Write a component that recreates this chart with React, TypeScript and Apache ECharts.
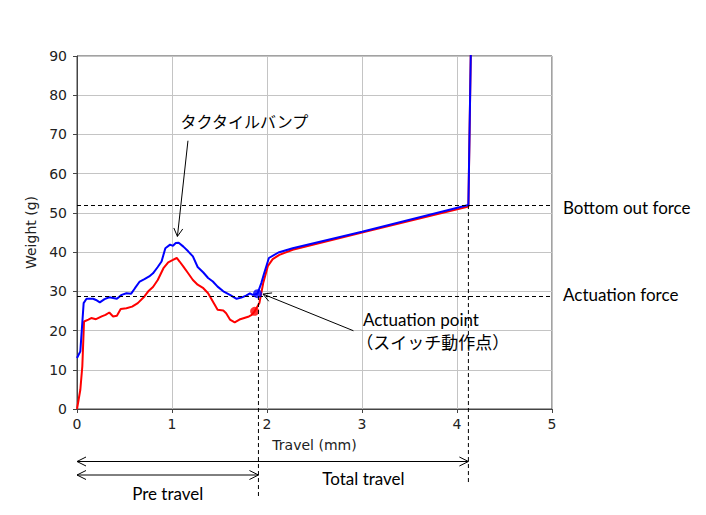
import React, { useEffect, useRef } from "react";
import * as echarts from "echarts";

// Red curve (travel mm, weight g)
const redTravel = [0, 0.035, 0.056, 0.074, 0.12, 0.15, 0.2, 0.26, 0.3, 0.34, 0.38, 0.42, 0.46, 0.52, 0.58, 0.64, 0.71, 0.75, 0.8, 0.85, 0.91, 0.96, 1.01, 1.05, 1.08, 1.12, 1.17, 1.22, 1.27, 1.33, 1.38, 1.43, 1.48, 1.54, 1.57, 1.61, 1.66, 1.71, 1.76, 1.81, 1.84, 1.87, 1.92, 1.96, 2.01, 2.06, 2.13, 2.27, 3.0, 4.12, 4.148];
const redWeight = [0, 4.9, 10.9, 22.3, 22.8, 23.2, 22.9, 23.6, 24.0, 24.6, 23.6, 23.8, 25.5, 25.7, 26.1, 27.0, 28.7, 30.0, 31.1, 32.9, 35.9, 37.4, 38.0, 38.5, 37.6, 36.3, 34.6, 32.9, 31.7, 30.8, 29.5, 27.4, 25.3, 25.1, 24.4, 22.8, 22.1, 22.8, 23.2, 23.6, 24.0, 24.9, 27.0, 32.1, 36.5, 38.2, 39.3, 40.6, 45.0, 51.6, 95];

// Blue curve (travel mm, weight g)
const blueTravel = [0, 0.035, 0.07, 0.1, 0.17, 0.2, 0.24, 0.29, 0.34, 0.38, 0.42, 0.47, 0.52, 0.57, 0.61, 0.66, 0.71, 0.76, 0.8, 0.85, 0.89, 0.93, 0.98, 1.01, 1.04, 1.07, 1.12, 1.17, 1.22, 1.27, 1.33, 1.38, 1.43, 1.48, 1.54, 1.61, 1.68, 1.73, 1.78, 1.82, 1.85, 1.9, 1.94, 1.97, 2.02, 2.12, 2.27, 3.0, 4.12, 4.148];
const blueWeight = [13.0, 14.7, 27.0, 28.1, 28.1, 27.8, 27.2, 28.0, 28.5, 28.3, 28.1, 29.1, 29.5, 29.4, 30.8, 32.5, 33.1, 33.8, 34.6, 36.2, 37.6, 41.0, 41.9, 41.6, 42.3, 42.4, 41.4, 40.2, 38.9, 36.2, 34.8, 33.4, 32.5, 31.2, 30.0, 29.1, 28.1, 28.4, 28.9, 29.5, 29.1, 29.4, 32.1, 34.6, 38.5, 39.9, 41.0, 45.2, 52.0, 95];

// Actuation points
const actuationRed = [1.87, 24.9];
const actuationBlue = [1.9, 29.4];

// Reference values
const actuationTravel = 1.91;
const totalTravel = 4.12;
const actuationForce = 28.8;
const bottomOutForce = 52;

// Labels
const xAxisName = "Travel (mm)";
const yAxisName = "Weight (g)";
const tactileLabel = "タクタイルバンプ";
const actuationPointLabel = "Actuation point";
const actuationPointJa = "（スイッチ動作点）";
const bottomOutLabel = "Bottom out force";
const actuationForceLabel = "Actuation force";
const preTravelLabel = "Pre travel";
const totalTravelLabel = "Total travel";

const zip = (xs: number[], ys: number[]) => xs.map((x, i) => [x, ys[i]]);

function head(tip: number[], from: number[], len = 9, half = 4.5) {
  const dx = from[0] - tip[0];
  const dy = from[1] - tip[1];
  const d = Math.hypot(dx, dy) || 1;
  const ux = dx / d;
  const uy = dy / d;
  const bx = tip[0] + ux * len;
  const by = tip[1] + uy * len;
  const nx = -uy;
  const ny = ux;
  return [
    [bx + nx * half, by + ny * half],
    [tip[0], tip[1]],
    [bx - nx * half, by - ny * half],
  ];
}

export default function App() {
  const ref = useRef<HTMLDivElement>(null);
  useEffect(() => {
    document.body.style.margin = "0";
    const chart = echarts.init(ref.current!, null, { renderer: "svg" });
    const tickFont = "DejaVu Sans";
    chart.setOption({
      animation: false,
      backgroundColor: "#ffffff",
      grid: {
        left: 77,
        right: 154,
        top: 56,
        bottom: 106,
        show: true,
        borderColor: "#444",
        borderWidth: 1,
        backgroundColor: "transparent",
      },
      xAxis: {
        type: "value",
        min: 0,
        max: 5,
        interval: 1,
        name: xAxisName,
        nameLocation: "middle",
        nameGap: 29,
        nameTextStyle: { fontFamily: tickFont, fontSize: 14, color: "#222" },
        axisLine: { show: true, lineStyle: { color: "#444", width: 1 } },
        axisTick: { show: true, inside: false, length: 4, lineStyle: { color: "#444" } },
        axisLabel: { fontFamily: tickFont, fontSize: 14, color: "#222", margin: 8 },
        splitLine: { show: true, lineStyle: { color: "#c4c4c4", width: 1 } },
      },
      yAxis: {
        type: "value",
        min: 0,
        max: 90,
        interval: 10,
        name: yAxisName,
        nameLocation: "middle",
        nameGap: 31,
        nameRotate: 90,
        nameTextStyle: { fontFamily: tickFont, fontSize: 14, color: "#222" },
        axisLine: { show: true, lineStyle: { color: "#444", width: 1 } },
        axisTick: { show: true, inside: false, length: 4, lineStyle: { color: "#444" } },
        axisLabel: { fontFamily: tickFont, fontSize: 14, color: "#222", margin: 10 },
        splitLine: { show: true, lineStyle: { color: "#c4c4c4", width: 1 } },
      },
      series: [
        {
          type: "line",
          data: zip(redTravel, redWeight),
          symbol: "none",
          lineStyle: { color: "#ff0000", width: 2 },
          z: 3,
          clip: true,
          markLine: {
            silent: true,
            symbol: ["none", "none"],
            label: { show: false },
            lineStyle: { color: "#000", width: 1, type: [4, 3] },
            data: [{ yAxis: bottomOutForce }, { yAxis: actuationForce }],
          },
        },
        {
          type: "line",
          data: zip(blueTravel, blueWeight),
          symbol: "none",
          lineStyle: { color: "#0000ff", width: 2 },
          z: 4,
          clip: true,
        },
        {
          type: "scatter",
          data: [actuationRed],
          symbolSize: 9,
          itemStyle: { color: "#ff0000" },
          z: 5,
        },
        {
          type: "scatter",
          data: [actuationBlue],
          symbolSize: 9,
          itemStyle: { color: "#0000ff" },
          z: 5,
        },
      ],
    });

    const px = (x: number, y: number) => chart.convertToPixel({ gridIndex: 0 }, [x, y]) as number[];
    const origin = px(0, 0);
    const right = px(5, 0)[0];
    const xA = px(actuationTravel, 0)[0];
    const xT = px(totalTravel, 0)[0];
    const yAF = px(0, actuationForce)[1];
    const yBO = px(0, bottomOutForce)[1];
    const base = origin[1];
    const dash = { stroke: "#000", lineWidth: 1, lineDash: [4, 3] };
    const solid = { stroke: "#000", lineWidth: 1, fill: null };
    const engFont = "Lato";
    const jaFont = "Noto Sans CJK JP";

    const elements: any[] = [];
    // vertical dashed lines
    elements.push({ type: "line", shape: { x1: xA, y1: yAF, x2: xA, y2: base + 87 }, style: dash, z: 10 });
    elements.push({ type: "line", shape: { x1: xT, y1: yBO, x2: xT, y2: base + 76 }, style: dash, z: 10 });

    // travel arrows
    const yTot = base + 52.5;
    const yPre = base + 66;
    elements.push({ type: "line", shape: { x1: origin[0], y1: yTot, x2: xT, y2: yTot }, style: solid, z: 10 });
    elements.push({ type: "polyline", shape: { points: head([origin[0], yTot], [xT, yTot]) }, style: solid, z: 10 });
    elements.push({ type: "polyline", shape: { points: head([xT, yTot], [origin[0], yTot]) }, style: solid, z: 10 });
    elements.push({ type: "line", shape: { x1: origin[0], y1: yPre, x2: xA, y2: yPre }, style: solid, z: 10 });
    elements.push({ type: "polyline", shape: { points: head([origin[0], yPre], [xA, yPre]) }, style: solid, z: 10 });
    elements.push({ type: "polyline", shape: { points: head([xA, yPre], [origin[0], yPre]) }, style: solid, z: 10 });

    elements.push({
      type: "text", x: (xA + xT) / 2, y: base + 69,
      style: { text: totalTravelLabel, fontFamily: engFont, fontSize: 17, fill: "#000", align: "center", verticalAlign: "middle" }, z: 10,
    });
    elements.push({
      type: "text", x: (origin[0] + xA) / 2, y: base + 84,
      style: { text: preTravelLabel, fontFamily: engFont, fontSize: 17, fill: "#000", align: "center", verticalAlign: "middle" }, z: 10,
    });

    // right side labels
    elements.push({
      type: "text", x: right + 11, y: yBO + 2,
      style: { text: bottomOutLabel, fontFamily: engFont, fontSize: 17, fill: "#000", align: "left", verticalAlign: "middle" }, z: 10,
    });
    elements.push({
      type: "text", x: right + 11, y: yAF - 2,
      style: { text: actuationForceLabel, fontFamily: engFont, fontSize: 17, fill: "#000", align: "left", verticalAlign: "middle" }, z: 10,
    });

    // tactile bump annotation
    const tText = px(1.09, 73.5);
    elements.push({
      type: "text", x: tText[0], y: tText[1],
      style: { text: tactileLabel, fontFamily: jaFont, fontSize: 16, fill: "#000", align: "left", verticalAlign: "middle" }, z: 10,
    });
    const tFrom = px(1.168, 68.4);
    const tTip = px(1.057, 44.0);
    elements.push({ type: "line", shape: { x1: tFrom[0], y1: tFrom[1], x2: tTip[0], y2: tTip[1] }, style: solid, z: 10 });
    elements.push({ type: "polyline", shape: { points: head(tTip, tFrom, 8, 4.5) }, style: solid, z: 10 });

    // actuation point annotation
    const aFrom = px(2.91, 19.95);
    const aTip = px(1.958, 29.3);
    elements.push({ type: "line", shape: { x1: aFrom[0], y1: aFrom[1], x2: aTip[0], y2: aTip[1] }, style: solid, z: 10 });
    elements.push({ type: "polyline", shape: { points: head(aTip, aFrom, 8, 4.5) }, style: solid, z: 10 });
    const ap = px(3.01, 22.9);
    elements.push({
      type: "text", x: ap[0], y: ap[1],
      style: { text: actuationPointLabel, fontFamily: engFont, fontSize: 17, fill: "#000", align: "left", verticalAlign: "middle" }, z: 10,
    });
    const apj = px(2.94, 17.2);
    elements.push({
      type: "text", x: apj[0], y: apj[1],
      style: { text: actuationPointJa, fontFamily: jaFont, fontSize: 17, fill: "#000", align: "left", verticalAlign: "middle" }, z: 10,
    });

    chart.setOption({ graphic: elements });
    return () => chart.dispose();
  }, []);
  return <div ref={ref} style={{ position: "absolute", left: 0, top: 0, width: 706, height: 515 }} />;
}
